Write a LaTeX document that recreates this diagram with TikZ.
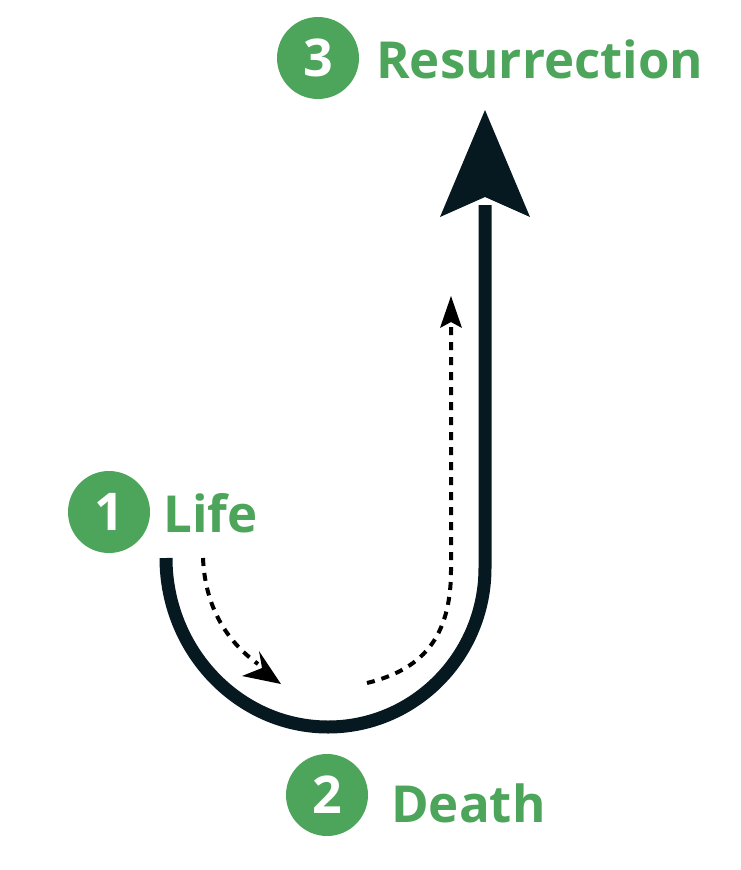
\documentclass[tikz,border=0pt]{standalone}
\usepackage{fontspec}
\setmainfont{Open Sans}
\definecolor{grn}{HTML}{4CA55A}
\definecolor{ink}{HTML}{061820}
\begin{document}
\begin{tikzpicture}[x=1pt,y=-1pt,
  badge/.style={circle,fill=grn,minimum size=82pt,inner sep=0pt,text=white,font=\fontsize{52}{52}\selectfont\bfseries},
  lbl/.style={anchor=base west,inner sep=0pt,text=grn,font=\fontsize{51}{51}\selectfont\bfseries},
  thick path/.style={draw=ink,line width=13pt},
  dots/.style={draw=black,line width=4pt,dash pattern=on 8pt off 7pt}]
\useasboundingbox (0,0) rectangle (740,870);
% badges
\node[badge] (b3) at (318,58) {3};
\node[badge] (b1) at (109,512) {1};
\node[badge] (b2) at (327,795) {2};
\node[lbl] (t3) at (376,78) {Resurrection};
\node[lbl] (t1) at (163,532) {Life};
\node[lbl] (t2) at (391,822) {Death};
% main path
\coordinate (s) at (166,558);
\coordinate (bot) at (328,727);
\coordinate (r) at (485,568);
\coordinate (top) at (485,205);
\draw[thick path] (s) .. controls (166,651) and (239,727) .. (bot)
  .. controls (415,727) and (485,655) .. (r) -- (top);
\coordinate (tip) at (485,110);
\fill[ink] (tip) -- (530,217) -- (485,197) -- (440,217) -- cycle;
% dotted arrow 1
\coordinate (d1s) at (203,558);
\coordinate (d1e) at (258,664);
\draw[dots] (d1s) .. controls (205,605) and (225,640) .. (d1e);
\fill[black] (281,684) -- (242,676) -- (262,668) -- (259,651) -- cycle;
% dotted arrow 2
\coordinate (d2s) at (367,683);
\coordinate (d2e) at (451,322);
\draw[dots] (d2s) .. controls (420,670) and (451,640) .. (451,570) -- (d2e);
\fill[black] (451,296) -- (462,328) -- (451,322) -- (440,328) -- cycle;
\end{tikzpicture}
\end{document}
